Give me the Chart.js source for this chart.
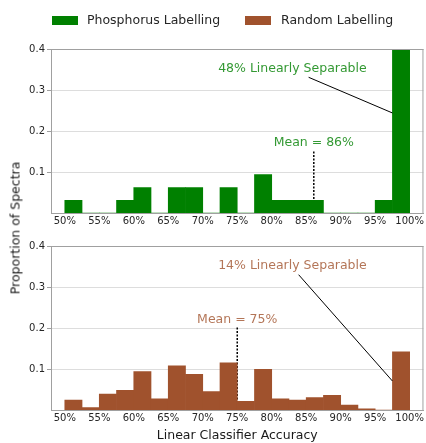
<!DOCTYPE html>
<html><head><meta charset="utf-8">
<script src="https://cdn.jsdelivr.net/npm/chart.js@4.4.1/dist/chart.umd.min.js"></script>
<style>
html,body{margin:0;padding:0;background:#fff;}
#wrap{position:relative;width:426px;height:443px;font-family:"DejaVu Sans",sans-serif;overflow:hidden;}
#c1{position:absolute;left:0;top:0;}
#c2{position:absolute;left:0;top:230px;}
#ylab{position:absolute;left:15px;top:228px;transform:translate(-50%,-50%) rotate(-90deg);white-space:nowrap;font-size:12.5px;color:#1a1a1a;}
</style></head>
<body><div id="wrap">
<canvas id="c1" width="426" height="230"></canvas>
<canvas id="c2" width="426" height="213"></canvas>
<div id="ylab">Proportion of Spectra</div>
</div>
<script>
// ---- data ----
const binCenters = [51.25,53.75,56.25,58.75,61.25,63.75,66.25,68.75,71.25,73.75,76.25,78.75,81.25,83.75,86.25,88.75,91.25,93.75,96.25,98.75];
const tickValues = [50,55,60,65,70,75,80,85,90,95,100];
const tickLabels = ['50%','55%','60%','65%','70%','75%','80%','85%','90%','95%','100%'];
const yTickValues = [0.1,0.2,0.3,0.4];
const phosphorus = [0.031,0,0,0.031,0.062,0,0.062,0.062,0,0.062,0,0.094,0.031,0.031,0.031,0,0,0,0.031,0.469];
const randomLab  = [0.024,0.006,0.039,0.048,0.094,0.027,0.108,0.087,0.045,0.115,0.021,0.099,0.027,0.024,0.030,0.036,0.012,0.003,0,0.142];
const seriesNames = ['Phosphorus Labelling','Random Labelling'];
const meanValues = [86.1, 75.0];
const meanLineTops = [0.152, 0.2025];
const separableText = ['48% Linearly Separable','14% Linearly Separable'];
const meanText = ['Mean = 86%','Mean = 75%'];
const separableLineFrom = [[85.35,0.331],[83.9,0.330]];
const separableLineTo = [[97.5,0.244],[97.5,0.0707]];

const barColors = ['#008000','#a0522d'];
const textColors = ['rgba(0,128,0,0.8)','rgba(160,82,45,0.8)'];

Chart.defaults.font.family = "'DejaVu Sans', sans-serif";
Chart.defaults.font.size = 10;
Chart.defaults.color = '#262626';

const spinePlugin = {
  id:'spines',
  afterDatasetsDraw(chart){
    const a = chart.chartArea, ctx = chart.ctx;
    ctx.save();
    ctx.strokeStyle = '#a0a0a0'; ctx.lineWidth = 1;
    ctx.beginPath();
    ctx.moveTo(a.left, a.top+0.5); ctx.lineTo(a.right, a.top+0.5);
    ctx.moveTo(a.right-0.5, a.top); ctx.lineTo(a.right-0.5, a.bottom);
    ctx.stroke();
    ctx.restore();
  }
};
const annotPlugin = {
  id:'annot',
  afterDraw(chart, args, opts){
    const ctx = chart.ctx, xs = chart.scales.x, ys = chart.scales.y;
    ctx.save();
    (opts.texts||[]).forEach(t=>{
      ctx.font = "12.5px 'DejaVu Sans'";
      ctx.fillStyle = t.color;
      ctx.textAlign = 'center'; ctx.textBaseline = 'middle';
      ctx.fillText(t.text, xs.getPixelForValue(t.x), ys.getPixelForValue(t.y));
    });
    if (opts.legend) {
      ctx.font = "12.5px 'DejaVu Sans'";
      ctx.textAlign = 'left'; ctx.textBaseline = 'middle';
      opts.legend.forEach(l=>{
        ctx.fillStyle = l.color;
        ctx.fillRect(l.bx, l.by, 26, 9);
        ctx.fillStyle = '#262626';
        ctx.fillText(l.text, l.tx, l.by+4.5);
      });
    }
    ctx.restore();
  }
};

function makeChart(id, idx, values, padTop, xHeight, showTitle){
  const datasets = [
    {type:'bar', label:seriesNames[idx], data: binCenters.map((c,i)=>({x:c,y:values[i]})),
     backgroundColor: barColors[idx], borderWidth:0, barPercentage:1, categoryPercentage:1, order:1},
    {type:'line', data:[{x:meanValues[idx],y:0},{x:meanValues[idx],y:meanLineTops[idx]}],
     borderColor:'#000', borderWidth:1.5, borderDash:[2,1.5], pointRadius:0, order:2},
    {type:'line', data:[{x:separableLineFrom[idx][0],y:separableLineFrom[idx][1]},{x:separableLineTo[idx][0],y:separableLineTo[idx][1]}],
     borderColor:'#000', borderWidth:1, pointRadius:0, order:0}
  ];
  const annotOpts = {
    texts:[
      {text:separableText[idx], x:83.0, y:0.351, color:textColors[idx]},
      {text:meanText[idx], x:meanValues[idx], y: idx===0?0.171:0.22, color:textColors[idx]}
    ]
  };
  if (idx===0) annotOpts.legend = [
    {text:seriesNames[0], color:barColors[0], bx:52, by:16, tx:87},
    {text:seriesNames[1], color:barColors[1], bx:245, by:16, tx:281}
  ];
  return new Chart(document.getElementById(id), {
    type:'bar',
    data:{datasets},
    plugins:[spinePlugin, annotPlugin],
    options:{
      responsive:false, animation:false,
      layout:{padding:{top:padTop,right:1,left:0,bottom:0}},
      plugins:{legend:{display:false}, tooltip:{enabled:false}, annot:annotOpts},
      scales:{
        x:{type:'linear', min:48, max:102, offset:false,
           afterBuildTicks(s){ s.ticks = tickValues.map(v=>({value:v})); },
           afterFit(s){ s.height = xHeight; },
           ticks:{callback:(v)=>tickLabels[tickValues.indexOf(v)], padding:2, maxRotation:0, autoSkip:false, color:'#262626'},
           grid:{display:false, drawTicks:false},
           border:{display:true, color:'#a0a0a0', width:1},
           title:{display:showTitle, text:'Linear Classifier Accuracy', font:{size:12.5}, color:'#1a1a1a', padding:{top:8,bottom:0}}
        },
        y:{min:0, max:0.4,
           afterBuildTicks(s){ s.ticks = yTickValues.map(v=>({value:v})); },
           afterFit(s){ s.width = 51; },
           ticks:{callback:(v)=>v.toFixed(1), padding:2, color:'#262626'},
           grid:{color:'#dddddd', lineWidth:1, tickLength:4, tickColor:'#a0a0a0'},
           border:{display:true, color:'#a0a0a0', width:1}
        }
      }
    }
  });
}
makeChart('c1', 0, phosphorus, 49, 17, false);
makeChart('c2', 1, randomLab, 16, 33, true);
</script>
</body></html>
